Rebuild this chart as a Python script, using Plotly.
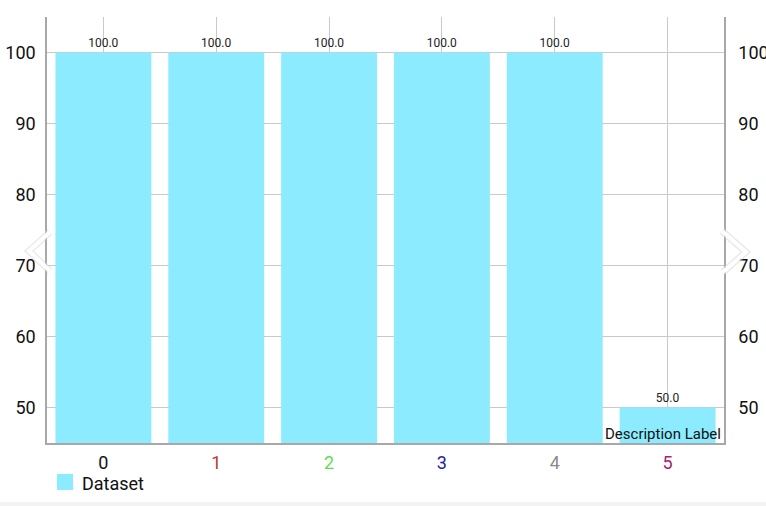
import plotly.graph_objects as go

categories = ["0", "1", "2", "3", "4", "5"]
values = [100, 100, 100, 100, 100, 50]
value_labels = ["100.0", "100.0", "100.0", "100.0", "100.0", "50.0"]
label_colors = ["#111111", "#c0392b", "#5fdc52", "#25239a", "#8a8a8a", "#a8236b"]
y_ticks = [50, 60, 70, 80, 90, 100]
series_name = "Dataset"
description = "Description Label"

BAR_COLOR = "#8CEBFF"
GRID = "#c9c9c9"
AXIS = "#a8a8a8"
FONT = "Roboto"

W, H = 766, 506
L, R, T, B = 47, 42, 17, 63
PW, PH = W - L - R, H - T - B


def px(x):
    return (x - L) / PW


def py(y):
    return (H - B - y) / PH


xpos = list(range(len(categories)))

fig = go.Figure()
fig.add_trace(go.Bar(
    x=xpos, y=values, width=0.85,
    marker=dict(color=BAR_COLOR, line=dict(width=0)),
    text=value_labels, textposition="outside",
    textfont=dict(family=FONT, size=12, color="#222222"),
    constraintext="none", showlegend=False, hoverinfo="skip",
))
# invisible trace for right axis
fig.add_trace(go.Scatter(x=[xpos[0]], y=[values[0]], yaxis="y2", mode="markers",
                         marker=dict(opacity=0), showlegend=False, hoverinfo="skip"))

ticktext = [f'<span style="color:{c}">{t}</span>' for t, c in zip(categories, label_colors)]

fig.update_layout(
    width=W, height=H,
    margin=dict(l=L, r=R, t=T, b=B, autoexpand=False),
    paper_bgcolor="white", plot_bgcolor="white",
    font=dict(family=FONT, size=18, color="#111111"),
    showlegend=False,
    xaxis=dict(
        range=[-0.5, 5.5], tickvals=xpos, ticktext=ticktext, automargin=False,
        showgrid=True, gridcolor=GRID, gridwidth=1,
        showline=True, linecolor=AXIS, linewidth=1.5,
        ticks="outside", ticklen=3, tickcolor="rgba(0,0,0,0)",
        tickfont=dict(family=FONT, size=18), zeroline=False,
    ),
    yaxis=dict(
        range=[45, 105], tickvals=y_ticks, ticktext=[str(v) for v in y_ticks], automargin=False,
        showgrid=True, gridcolor=GRID, gridwidth=1,
        showline=True, linecolor=AXIS, linewidth=1.5,
        ticks="outside", ticklen=6, tickcolor="rgba(0,0,0,0)",
        tickfont=dict(family=FONT, size=18), zeroline=False,
    ),
    yaxis2=dict(
        range=[45, 105], tickvals=y_ticks, ticktext=[str(v) for v in y_ticks], automargin=False,
        overlaying="y", side="right", showgrid=False,
        showline=True, linecolor=AXIS, linewidth=1.5,
        ticks="outside", ticklen=9, tickcolor="rgba(0,0,0,0)",
        tickfont=dict(family=FONT, size=18), zeroline=False,
    ),
)

shapes = []
# legend swatch
shapes.append(dict(type="rect", xref="paper", yref="paper",
                   x0=px(57), x1=px(73), y0=py(490), y1=py(474),
                   fillcolor=BAR_COLOR, line=dict(width=0)))
# bottom band
shapes.append(dict(type="rect", xref="paper", yref="paper",
                   x0=px(0), x1=px(W), y0=py(H + 2), y1=py(502),
                   fillcolor="#f3f3f3", line=dict(width=0)))
# chevrons
for pts in ([(50, 232), (29, 251), (50, 271)], [(722, 231), (746, 252), (723, 272)]):
    path = "M " + " L ".join(f"{px(a)},{py(b)}" for a, b in pts)
    shapes.append(dict(type="path", xref="paper", yref="paper", path=path,
                       line=dict(color="rgba(215,215,215,0.5)", width=7)))
    shapes.append(dict(type="path", xref="paper", yref="paper", path=path,
                       line=dict(color="white", width=4)))
fig.update_layout(shapes=shapes)

fig.add_annotation(xref="paper", yref="paper", x=px(80), y=py(483),
                   text=series_name, showarrow=False, xanchor="left", yanchor="middle",
                   font=dict(family=FONT, size=18, color="#111111"))
fig.add_annotation(xref="paper", yref="paper", x=px(723), y=py(434),
                   text=description, showarrow=False, xanchor="right", yanchor="middle",
                   font=dict(family=FONT, size=15, color="#111111"))

fig.write_html("out.html", config={"displayModeBar": False},
               post_script="document.body.style.margin='0px';document.body.style.overflow='hidden';")
